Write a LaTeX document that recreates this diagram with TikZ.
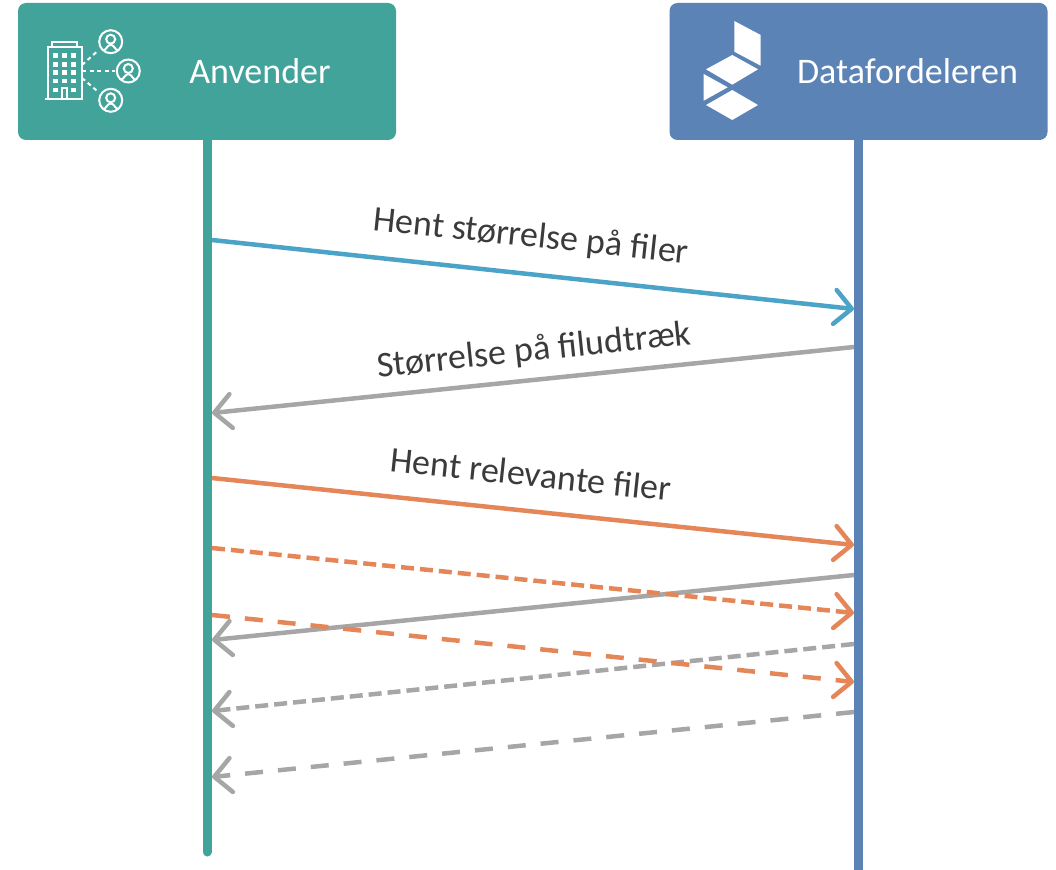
\documentclass[tikz,border=0pt]{standalone}
\usepackage{fontspec}
\setmainfont{Carlito}
\usetikzlibrary{arrows.meta}
\definecolor{tealbox}{HTML}{42A39A}
\definecolor{bluebox}{HTML}{5B83B5}
\definecolor{reqblue}{HTML}{4BA3C7}
\definecolor{resgray}{HTML}{A6A6A6}
\definecolor{reqorange}{HTML}{E58659}
\definecolor{labelgray}{HTML}{3B3B3B}
\tikzset{actor/.style={shape=rectangle,rounded corners=8pt,minimum width=378pt,minimum height=137pt,inner sep=0pt}}
\tikzset{actorlabel/.style={text=white,font=\fontsize{36}{36}\selectfont}}
\tikzset{msglabel/.style={text=labelgray,font=\fontsize{36}{36}\selectfont}}
\tikzset{lifeline/.style={line width=9pt,line cap=round}}
\tikzset{msg/.style={line width=4.5pt,-{Straight Barb[round,length=17pt,width=34pt,line width=4.5pt]}}}
\tikzset{shortdash/.style={dash pattern=on 13pt off 6pt}}
\tikzset{longdash/.style={dash pattern=on 18pt off 15pt}}
\tikzset{icon/.style={white,line width=2pt}}

\begin{document}
\begin{tikzpicture}[x=1pt, y=-1pt]
    \useasboundingbox (0, 0) rectangle (1056, 869);

    \node [actor, fill=tealbox] (anvender) at (207, 71.5) {};
    \node [actor, fill=bluebox] (datafordeleren) at (858.5, 71.5) {};
    \node [actorlabel] (anvenderlabel) at (260, 71) {Anvender};
    \node [actorlabel] (datalabel) at (907.5, 71) {Datafordeleren};

    \coordinate (anvenderend) at (207, 852);
    \coordinate (dataend) at (858.5, 875);
    \draw [lifeline, tealbox] (anvender.south) to (anvenderend);
    \draw [lifeline, bluebox, line cap=butt] (datafordeleren.south) to (dataend);

    % ends of the messages on the two lifelines
    \foreach \name/\y in {a1/240, a3/478, a4/548, a6/615} {
        \coordinate (\name) at (212, \y);
    }
    \foreach \name/\y in {a2/413, a5/640, a7/711, a8/777} {
        \coordinate (\name) at (212, \y);
    }
    \foreach \name/\y in {b1/309, b3/545, b4/613, b6/682} {
        \coordinate (\name) at (854, \y);
    }
    \foreach \name/\y in {b2/347, b5/575, b7/644, b8/712} {
        \coordinate (\name) at (854, \y);
    }

    \draw [msg, reqblue] (a1) to (b1);
    \draw [msg, resgray] (b2) to (a2);
    \draw [msg, resgray] (b5) to (a5);
    \draw [msg, resgray, shortdash] (b7) to (a7);
    \draw [msg, resgray, longdash] (b8) to (a8);
    \draw [msg, reqorange] (a3) to (b3);
    \draw [msg, reqorange, shortdash] (a4) to (b4);
    \draw [msg, reqorange, longdash] (a6) to (b6);

    \node [msglabel, rotate=-6] (hentsize) at (531, 237) {Hent størrelse på filer};
    \node [msglabel, rotate=6] (filesize) at (534, 351) {Størrelse på filudtræk};
    \node [msglabel, rotate=-6] (hentfiles) at (531, 474) {Hent relevante filer};

    % building
    \draw [icon] (47.5, 99) to (47.5, 47) to (81.5, 47) to (81.5, 99);
    \draw [icon] (52, 47) to (52, 42) to (77, 42) to (77, 47);
    \draw [icon] (45, 99) to (83, 99);
    \draw [icon] (62, 99) to (62, 88) to (66.5, 88) to (66.5, 99);
    \foreach \x in {55.7, 64.3, 73.3} {
        \foreach \y in {55.7, 64.3, 72.3, 81} {
            \fill [white] (\x-2.4, \y-2.4) rectangle (\x+2.4, \y+2.4);
        }
    }
    \foreach \x in {55.7, 73.3} {
        \fill [white] (\x-2.4, 87.6) rectangle (\x+2.4, 92.4);
    }

    % persons
    \foreach \x/\y in {110.7/41.7, 128.3/71, 110.7/100.3} {
        \draw [icon] (\x, \y) circle (11.5);
        \draw [icon] (\x, \y-2.5) circle (4.5);
        \draw [icon] (\x-7.5, \y+8) to [out=-70,in=180] (\x, \y+3) to [out=0,in=-110] (\x+7.5, \y+8);
    }
    \draw [icon, dash pattern=on 4pt off 3.5pt] (82, 65) to (98, 50.7);
    \draw [icon, dash pattern=on 4pt off 3.5pt] (82, 71) to (115, 71);
    \draw [icon, dash pattern=on 4pt off 3.5pt] (82, 78) to (98, 91.7);

    % logo
    \fill [white] (734.3, 21) -- (760.7, 35) -- (760.7, 65.7) -- (734.3, 51.7) -- cycle;
    \fill [white] (706, 69.3) -- (732.3, 55) -- (758, 69.3) -- (732.3, 84.7) -- cycle;
    \fill [white] (703.7, 74) -- (727.7, 87.3) -- (703.7, 100.7) -- cycle;
    \fill [white] (706, 105) -- (732.3, 90) -- (758, 105) -- (732.3, 120) -- cycle;

\end{tikzpicture}
\end{document}
